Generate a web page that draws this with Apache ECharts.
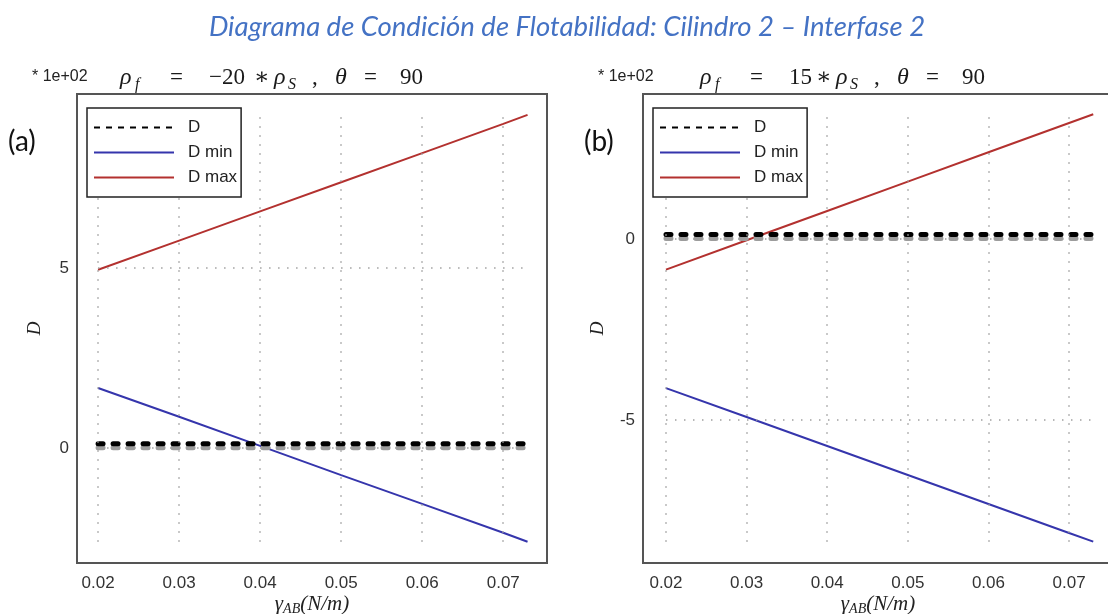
<!DOCTYPE html>
<html>
<head>
<meta charset="utf-8">
<script src="https://cdn.jsdelivr.net/npm/echarts@6/dist/echarts.min.js"></script>
<style>
html,body{margin:0;padding:0;background:#fff;}
#chart{width:1108px;height:614px;}
</style>
</head>
<body>
<div id="chart"></div>
<script>
// ---- data (values in units of 1e+02) ----
const gammaAB = [0.02, 0.03, 0.04, 0.05, 0.06, 0.07, 0.073];
// panel (a): rho_f = -20 * rho_S
const dA    = [0.12, 0.12, 0.12, 0.12, 0.12, 0.12, 0.12];
const dMinA = [1.67, 0.87, 0.06, -0.75, -1.55, -2.35, -2.6];
const dMaxA = [4.95, 5.76, 6.57, 7.38, 8.19, 9.0, 9.25];
// panel (b): rho_f = 15 * rho_S
const dB    = [0.12, 0.12, 0.12, 0.12, 0.12, 0.12, 0.12];
const dMinB = [-4.12, -4.92, -5.72, -6.52, -7.32, -8.12, -8.36];
const dMaxB = [-0.85, -0.04, 0.77, 1.58, 2.39, 3.2, 3.44];
// tick labels
const xTicks  = [0.02, 0.03, 0.04, 0.05, 0.06, 0.07];
const yTicksA = [0, 5];
const yTicksB = [-5, 0];
const seriesNames = ['D', 'D min', 'D max'];
const mainTitle = 'Diagrama de Condición de Flotabilidad: Cilindro 2 – Interfase 2';
const scaleNote = '* 1e+02';

const RED = '#B3312F', BLUE = '#3535AC';
const SANS = '"Liberation Sans", Arial, sans-serif';
const SERIF = '"Liberation Serif", "DejaVu Serif", serif';

function pairs(xs, ys){ return xs.map((x,i)=>[x, ys[i]]); }

function gridLines(xs, ys, xT, yT){
  const all = [].concat(...ys);
  const yMin = Math.min(...all), yMax = Math.max(...all);
  const xMin = Math.min(...xs), xMax = Math.max(...xs);
  const d = [];
  xT.forEach(x => d.push([{coord:[x, yMin]}, {coord:[x, yMax]}]));
  yT.forEach(y => d.push([{coord:[xMin, y]}, {coord:[xMax, y]}]));
  return d;
}

function panelSeries(idx, d, dmin, dmax, yT){
  return [
    {
      type:'line', name:'_grid', xAxisIndex:idx, yAxisIndex:idx, data:[], z:1, silent:true,
      markLine:{
        silent:true, symbol:['none','none'], animation:false,
        label:{show:false},
        lineStyle:{color:'#a0a0a0', width:1.5, type:[1.5,7.5]},
        data: gridLines(gammaAB, [d, dmin, dmax], xTicks, yT)
      }
    },
    {
      type:'line', name:seriesNames[0], xAxisIndex:idx, yAxisIndex:idx, data:pairs(gammaAB, d), z:4,
      symbol:'none', showSymbol:false, itemStyle:{color:'#000'},
      lineStyle:{color:'#000', width:5, type:[5,10], cap:'round',
                 shadowColor:'#9c9c9c', shadowOffsetY:4, shadowBlur:0}
    },
    {
      type:'line', name:seriesNames[1], xAxisIndex:idx, yAxisIndex:idx, data:pairs(gammaAB, dmin), z:3,
      symbol:'none', showSymbol:false, itemStyle:{color:BLUE}, lineStyle:{color:BLUE, width:2}
    },
    {
      type:'line', name:seriesNames[2], xAxisIndex:idx, yAxisIndex:idx, data:pairs(gammaAB, dmax), z:3,
      symbol:'none', showSymbol:false, itemStyle:{color:RED}, lineStyle:{color:RED, width:2}
    }
  ];
}

function xAxisCfg(idx, min, max){
  return {
    type:'value', gridIndex:idx, min:min, max:max, minInterval:0.01, maxInterval:0.01,
    axisLine:{show:false}, axisTick:{show:false}, splitLine:{show:false},
    axisLabel:{
      color:'#333', fontSize:17, fontFamily:SANS, margin:12,
      formatter: v => (Math.abs(v*100 - Math.round(v*100)) < 1e-6 ? v.toFixed(2) : '')
    },
    name:'{g|γ}{s|AB}{g|(N/m)}', nameLocation:'middle', nameGap:29, nameMoveOverlap:false,
    nameTextStyle:{
      rich:{
        g:{fontFamily:SERIF, fontStyle:'italic', fontSize:21, color:'#222', lineHeight:24, verticalAlign:'middle'},
        s:{fontFamily:SERIF, fontStyle:'italic', fontSize:14, color:'#222', lineHeight:24, verticalAlign:'bottom'}
      }
    }
  };
}

function yAxisCfg(idx, min, max, gap){
  return {
    type:'value', gridIndex:idx, min:min, max:max, minInterval:5, maxInterval:5,
    axisLine:{show:false}, axisTick:{show:false}, splitLine:{show:false},
    axisLabel:{
      color:'#333', fontSize:17, fontFamily:SANS, margin:8,
      formatter: v => (Math.abs(v/5 - Math.round(v/5)) < 1e-6 ? String(Math.round(v)) : '')
    },
    name:'D', nameLocation:'middle', nameGap:gap, nameRotate:90, nameMoveOverlap:false,
    nameTextStyle:{fontFamily:SERIF, fontStyle:'italic', fontSize:19, color:'#222'}
  };
}

function legendCfg(left){
  return {
    left:left, top:108, orient:'vertical',
    data:[
      {name:seriesNames[0], lineStyle:{color:'#000', width:2, type:[6,6], cap:'butt', shadowColor:'rgba(0,0,0,0)', shadowOffsetY:0}},
      {name:seriesNames[1]}, {name:seriesNames[2]}
    ],
    itemWidth:80, itemHeight:14, itemGap:8,
    itemStyle:{color:'rgba(0,0,0,0)', borderColor:'rgba(0,0,0,0)', borderWidth:0, opacity:0},
    padding:[11,4,11,6],
    borderColor:'#222', borderWidth:1.5, backgroundColor:'#fff',
    textStyle:{fontFamily:SANS, fontSize:17, color:'#222', padding:[0,0,0,9]},
    z:10, selectedMode:false
  };
}

// math header pieces: [text, x-offset, kind]
function mathPieces(x0, y, num, numW){
  const shift = numW - 43;
  const parts = [
    ['ρ', 0, 'i'], ['f', 15, 's'], ['=', 50, 'n'], [num, 89, 'n'],
    ['∗', 134 + shift, 'n'], ['ρ', 154 + shift, 'i'], ['S', 168 + shift, 's'],
    [',', 192 + shift, 'n'], ['θ', 215 + shift, 'i'], ['=', 244 + shift, 'n'], ['90', 280 + shift, 'n']
  ];
  return parts.map(p => ({
    type:'text', x:x0 + p[1], y: p[2] === 's' ? y + 7 : y, z:20,
    style:{
      text:p[0], fill:'#1a1a1a', textVerticalAlign:'middle',
      font: p[2] === 'i' ? 'italic 24px ' + SERIF : (p[2] === 's' ? 'italic 16px ' + SERIF : '23px ' + SERIF)
    }
  }));
}

const chart = echarts.init(document.getElementById('chart'), null, {renderer:'canvas'});
const option = {
  animation:false,
  backgroundColor:'#fff',
  grid:[
    {left:77, top:94, width:470, height:469, show:true, borderColor:'#555', borderWidth:2, backgroundColor:'transparent', outerBoundsMode:'none', containLabel:false},
    {left:643, top:94, width:470, height:469, show:true, borderColor:'#555', borderWidth:2, backgroundColor:'transparent', outerBoundsMode:'none', containLabel:false}
  ],
  xAxis:[ xAxisCfg(0, 0.0174, 0.0754), xAxisCfg(1, 0.01715, 0.07545) ],
  yAxis:[ yAxisCfg(0, -3.19, 9.83, 33), yAxisCfg(1, -8.95, 4.0, 36) ],
  legend:[ legendCfg(87), legendCfg(653) ],
  series:[].concat(
    panelSeries(0, dA, dMinA, dMaxA, yTicksA),
    panelSeries(1, dB, dMinB, dMaxB, yTicksB)
  ),
  graphic:[].concat(
    [
      {type:'text', x:567, y:27, z:20, style:{text:mainTitle, fill:'#4472C4', font:'italic 27.5px Lato, "Open Sans", sans-serif', textAlign:'center', textVerticalAlign:'middle'}},
      {type:'text', x:32, y:77, z:20, style:{text:scaleNote, fill:'#222', font:'16px "Liberation Sans", Arial, sans-serif', textVerticalAlign:'middle'}},
      {type:'text', x:598, y:77, z:20, style:{text:scaleNote, fill:'#222', font:'16px "Liberation Sans", Arial, sans-serif', textVerticalAlign:'middle'}},
      {type:'text', x:8, y:142, z:20, style:{text:'(a)', fill:'#111', font:'28px Lato, "Open Sans", sans-serif', textVerticalAlign:'middle'}},
      {type:'text', x:584, y:142, z:20, style:{text:'(b)', fill:'#111', font:'28px Lato, "Open Sans", sans-serif', textVerticalAlign:'middle'}}
    ],
    mathPieces(120, 78, '−20', 43),
    mathPieces(700, 78, '15', 25)
  )
};
chart.setOption(option);
</script>
</body>
</html>
